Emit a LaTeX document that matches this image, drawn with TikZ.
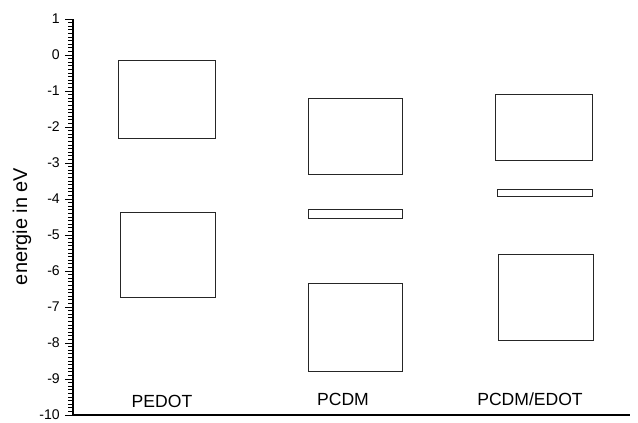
\documentclass[tikz,border=0pt]{standalone}
\usepackage{fontspec}
\setmainfont{Liberation Sans}

\begin{document}
\begin{tikzpicture}[x=0.03cm,y=1.08cm,
        level/.style={draw=black!85,line width=0.7pt},
        ticklab/.style={anchor=east,inner sep=0pt,font=\fontsize{12}{14}\selectfont},
        matlab/.style={inner sep=0pt,font=\fontsize{15}{18}\selectfont}]
        \useasboundingbox (0,1.528) rectangle (638,-10.194);
        % \draw[very thin,color=gray] (0,-10) grid (638,1);
        \draw[line width=1.1pt] (73,1) -- (73,-10) -- (630,-10);
        \foreach \i in {-100,...,10} \draw[line width=0.6pt] (68,\i/10) -- (73,\i/10);
        \foreach \y in {-10,...,1} {
            \draw[line width=0.8pt] (65,\y) -- (73,\y);
            \node[ticklab] (tick\y) at (60,\y) {\y};
        }
        \node[rotate=90,inner sep=0pt,font=\fontsize{17}{20}\selectfont] (elabel) at (22,-4.76) {energie in eV};

        % PEDOT
        \draw[level] (118,-0.15) rectangle (215,-2.33);
        \draw[level] (120,-4.38) rectangle (215,-6.73);
        % PCDM
        \draw[level] (308,-1.2) rectangle (402,-3.32);
        \draw[level] (308,-4.29) rectangle (402,-4.54);
        \draw[level] (308,-6.34) rectangle (402,-8.8);
        % PCDM/EDOT
        \draw[level] (495,-1.1) rectangle (592,-2.94);
        \draw[level] (497,-3.74) rectangle (592,-3.93);
        \draw[level] (498,-5.54) rectangle (593,-7.92);

        \node[matlab] (pedot) at (162,-9.61) {PEDOT};
        \node[matlab] (pcdm) at (343,-9.56) {PCDM};
        \node[matlab] (pcdmedot) at (530,-9.56) {PCDM/EDOT};
    \end{tikzpicture}
\end{document}
